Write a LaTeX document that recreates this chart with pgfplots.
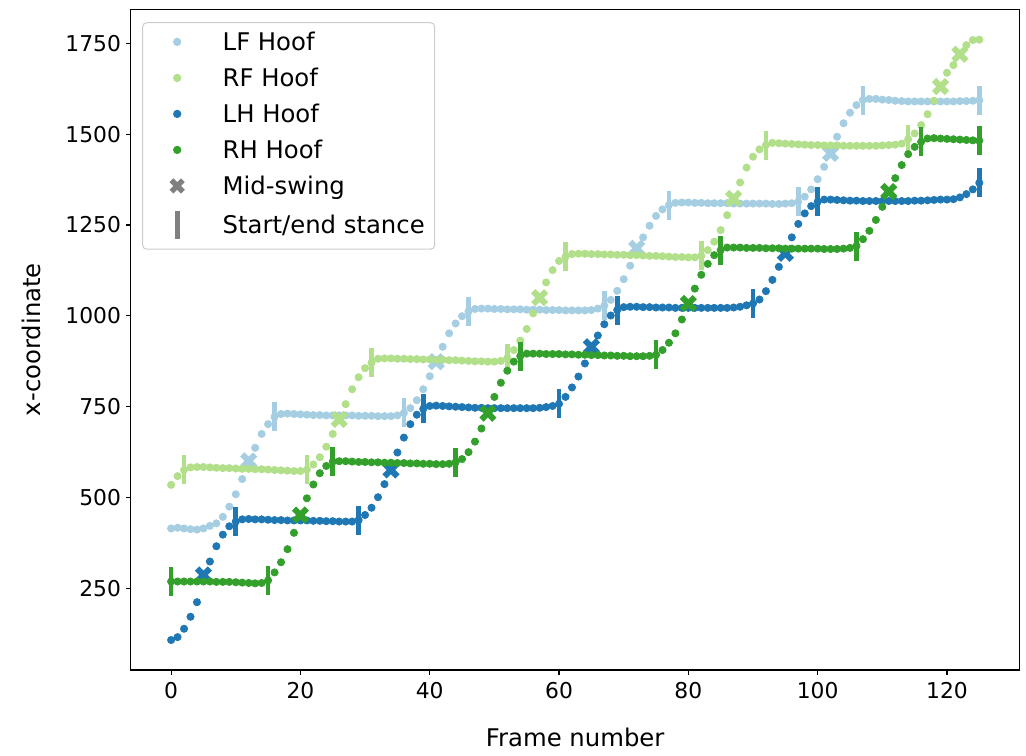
\documentclass[border=0pt]{standalone}
\usepackage{fontspec}
\setmainfont{DejaVu Sans}
\usepackage{pgfplots}
\pgfplotsset{compat=1.18}
\usepackage{pgfplotstable}
\definecolor{lfc}{HTML}{A6CEE3}
\definecolor{rfc}{HTML}{B2DF8A}
\definecolor{lhc}{HTML}{1F78B4}
\definecolor{rhc}{HTML}{33A02C}
\pgfdeclareplotmark{Xf}{%
  \pgfpathmoveto{\pgfqpoint{0.5\pgfplotmarksize}{-\pgfplotmarksize}}%
  \pgfpathlineto{\pgfqpoint{\pgfplotmarksize}{-0.5\pgfplotmarksize}}%
  \pgfpathlineto{\pgfqpoint{0.5\pgfplotmarksize}{0pt}}%
  \pgfpathlineto{\pgfqpoint{\pgfplotmarksize}{0.5\pgfplotmarksize}}%
  \pgfpathlineto{\pgfqpoint{0.5\pgfplotmarksize}{\pgfplotmarksize}}%
  \pgfpathlineto{\pgfqpoint{0pt}{0.5\pgfplotmarksize}}%
  \pgfpathlineto{\pgfqpoint{-0.5\pgfplotmarksize}{\pgfplotmarksize}}%
  \pgfpathlineto{\pgfqpoint{-\pgfplotmarksize}{0.5\pgfplotmarksize}}%
  \pgfpathlineto{\pgfqpoint{-0.5\pgfplotmarksize}{0pt}}%
  \pgfpathlineto{\pgfqpoint{-\pgfplotmarksize}{-0.5\pgfplotmarksize}}%
  \pgfpathlineto{\pgfqpoint{-0.5\pgfplotmarksize}{-\pgfplotmarksize}}%
  \pgfpathlineto{\pgfqpoint{0pt}{-0.5\pgfplotmarksize}}%
  \pgfpathclose
  \pgfusepathqfill
}

\pgfplotstableread[row sep=\\]{
f v\\
0 415\\ 1 417\\ 2 415\\ 3 413\\ 4 412\\ 5 415\\ 6 422\\ 7 429\\ 8 447\\ 9 475\\
10 509\\ 11 551\\ 12 601\\ 13 637\\ 14 675\\ 15 702\\ 16 722\\ 17 730\\ 18 731\\ 19 730\\
20 729\\ 21 728\\ 22 727\\ 23 727\\ 24 726\\ 25 726\\ 26 726\\ 27 726\\ 28 726\\ 29 725\\
30 725\\ 31 725\\ 32 724\\ 33 724\\ 34 724\\ 35 726\\ 36 733\\ 37 746\\ 38 768\\ 39 798\\
40 834\\ 41 874\\ 42 915\\ 43 952\\ 44 979\\ 45 999\\ 46 1012\\ 47 1019\\ 48 1020\\ 49 1020\\
50 1019\\ 51 1019\\ 52 1018\\ 53 1018\\ 54 1018\\ 55 1017\\ 56 1017\\ 57 1017\\ 58 1016\\ 59 1016\\
60 1016\\ 61 1015\\ 62 1015\\ 63 1015\\ 64 1015\\ 65 1016\\ 66 1020\\ 67 1028\\ 68 1044\\ 69 1069\\
70 1101\\ 71 1138\\ 72 1186\\ 73 1216\\ 74 1248\\ 75 1275\\ 76 1293\\ 77 1305\\ 78 1311\\ 79 1312\\
80 1312\\ 81 1311\\ 82 1311\\ 83 1310\\ 84 1310\\ 85 1310\\ 86 1310\\ 87 1309\\ 88 1309\\ 89 1309\\
90 1309\\ 91 1309\\ 92 1309\\ 93 1308\\ 94 1308\\ 95 1309\\ 96 1310\\ 97 1314\\ 98 1328\\ 99 1348\\
100 1376\\ 101 1410\\ 102 1447\\ 103 1493\\ 104 1530\\ 105 1559\\ 106 1580\\ 107 1594\\ 108 1597\\ 109 1597\\
110 1595\\ 111 1594\\ 112 1592\\ 113 1591\\ 114 1590\\ 115 1590\\ 116 1590\\ 117 1590\\ 118 1590\\ 119 1590\\
120 1590\\ 121 1590\\ 122 1591\\ 123 1591\\ 124 1592\\ 125 1593\\
}\LF

\pgfplotstableread[row sep=\\]{
f v\\
0 535\\ 1 559\\ 2 576\\ 3 583\\ 4 584\\ 5 584\\ 6 583\\ 7 582\\ 8 581\\ 9 581\\
10 580\\ 11 579\\ 12 579\\ 13 578\\ 14 578\\ 15 577\\ 16 576\\ 17 575\\ 18 574\\ 19 573\\
20 573\\ 21 577\\ 22 591\\ 23 611\\ 24 640\\ 25 675\\ 26 715\\ 27 757\\ 28 798\\ 29 831\\
30 856\\ 31 871\\ 32 882\\ 33 883\\ 34 883\\ 35 882\\ 36 882\\ 37 881\\ 38 881\\ 39 880\\
40 880\\ 41 879\\ 42 879\\ 43 878\\ 44 878\\ 45 877\\ 46 876\\ 47 875\\ 48 875\\ 49 874\\
50 874\\ 51 876\\ 52 884\\ 53 906\\ 54 932\\ 55 964\\ 56 1007\\ 57 1050\\ 58 1092\\ 59 1126\\
60 1151\\ 61 1163\\ 62 1170\\ 63 1171\\ 64 1171\\ 65 1170\\ 66 1170\\ 67 1169\\ 68 1169\\ 69 1168\\
70 1168\\ 71 1167\\ 72 1167\\ 73 1166\\ 74 1165\\ 75 1165\\ 76 1164\\ 77 1163\\ 78 1162\\ 79 1162\\
80 1161\\ 81 1161\\ 82 1165\\ 83 1181\\ 84 1204\\ 85 1236\\ 86 1277\\ 87 1323\\ 88 1367\\ 89 1408\\
90 1438\\ 91 1458\\ 92 1470\\ 93 1476\\ 94 1475\\ 95 1474\\ 96 1473\\ 97 1472\\ 98 1471\\ 99 1470\\
100 1470\\ 101 1469\\ 102 1469\\ 103 1469\\ 104 1468\\ 105 1468\\ 106 1468\\ 107 1468\\ 108 1468\\ 109 1468\\
110 1469\\ 111 1470\\ 112 1471\\ 113 1474\\ 114 1486\\ 115 1502\\ 116 1525\\ 117 1555\\ 118 1592\\ 119 1631\\
120 1669\\ 121 1690\\ 122 1720\\ 123 1745\\ 124 1759\\ 125 1760\\
}\RF

\pgfplotstableread[row sep=\\]{
f v\\
0 108\\ 1 116\\ 2 139\\ 3 172\\ 4 212\\ 5 287\\ 6 324\\ 7 366\\ 8 398\\ 9 421\\
10 434\\ 11 440\\ 12 441\\ 13 440\\ 14 440\\ 15 439\\ 16 438\\ 17 438\\ 18 437\\ 19 437\\
20 437\\ 21 437\\ 22 436\\ 23 436\\ 24 435\\ 25 435\\ 26 434\\ 27 434\\ 28 434\\ 29 438\\
30 452\\ 31 472\\ 32 501\\ 33 537\\ 34 576\\ 35 624\\ 36 665\\ 37 702\\ 38 728\\ 39 744\\
40 752\\ 41 753\\ 42 752\\ 43 751\\ 44 750\\ 45 749\\ 46 748\\ 47 747\\ 48 747\\ 49 746\\
50 746\\ 51 746\\ 52 746\\ 53 746\\ 54 746\\ 55 746\\ 56 746\\ 57 747\\ 58 749\\ 59 752\\
60 758\\ 61 777\\ 62 803\\ 63 833\\ 64 869\\ 65 915\\ 66 946\\ 67 977\\ 68 1001\\ 69 1016\\
70 1024\\ 71 1025\\ 72 1025\\ 73 1024\\ 74 1024\\ 75 1023\\ 76 1023\\ 77 1023\\ 78 1022\\ 79 1022\\
80 1022\\ 81 1022\\ 82 1022\\ 83 1022\\ 84 1022\\ 85 1022\\ 86 1022\\ 87 1023\\ 88 1025\\ 89 1029\\
90 1034\\ 91 1045\\ 92 1068\\ 93 1099\\ 94 1135\\ 95 1172\\ 96 1216\\ 97 1253\\ 98 1282\\ 99 1302\\
100 1314\\ 101 1320\\ 102 1320\\ 103 1319\\ 104 1318\\ 105 1317\\ 106 1317\\ 107 1316\\ 108 1316\\ 109 1316\\
110 1316\\ 111 1316\\ 112 1316\\ 113 1316\\ 114 1316\\ 115 1317\\ 116 1317\\ 117 1318\\ 118 1319\\ 119 1320\\
120 1320\\ 121 1321\\ 122 1326\\ 123 1335\\ 124 1348\\ 125 1366\\
}\LH

\pgfplotstableread[row sep=\\]{
f v\\
0 269\\ 1 269\\ 2 269\\ 3 269\\ 4 269\\ 5 269\\ 6 269\\ 7 268\\ 8 268\\ 9 268\\
10 267\\ 11 266\\ 12 265\\ 13 264\\ 14 265\\ 15 272\\ 16 294\\ 17 322\\ 18 358\\ 19 403\\
20 452\\ 21 498\\ 22 536\\ 23 567\\ 24 587\\ 25 599\\ 26 600\\ 27 600\\ 28 599\\ 29 598\\
30 598\\ 31 597\\ 32 597\\ 33 596\\ 34 596\\ 35 595\\ 36 595\\ 37 594\\ 38 594\\ 39 593\\
40 593\\ 41 592\\ 42 592\\ 43 593\\ 44 597\\ 45 606\\ 46 625\\ 47 654\\ 48 690\\ 49 732\\
50 777\\ 51 816\\ 52 849\\ 53 874\\ 54 889\\ 55 896\\ 56 896\\ 57 896\\ 58 895\\ 59 895\\
60 895\\ 61 894\\ 62 894\\ 63 893\\ 64 893\\ 65 892\\ 66 892\\ 67 891\\ 68 891\\ 69 890\\
70 890\\ 71 889\\ 72 889\\ 73 889\\ 74 890\\ 75 893\\ 76 906\\ 77 926\\ 78 952\\ 79 990\\
80 1034\\ 81 1075\\ 82 1113\\ 83 1143\\ 84 1167\\ 85 1181\\ 86 1188\\ 87 1188\\ 88 1188\\ 89 1187\\
90 1187\\ 91 1187\\ 92 1186\\ 93 1186\\ 94 1186\\ 95 1185\\ 96 1185\\ 97 1185\\ 98 1185\\ 99 1185\\
100 1185\\ 101 1184\\ 102 1184\\ 103 1184\\ 104 1185\\ 105 1187\\ 106 1192\\ 107 1211\\ 108 1234\\ 109 1264\\
110 1300\\ 111 1342\\ 112 1379\\ 113 1415\\ 114 1445\\ 115 1465\\ 116 1479\\ 117 1488\\ 118 1489\\ 119 1488\\
120 1487\\ 121 1486\\ 122 1485\\ 123 1484\\ 124 1483\\ 125 1482\\
}\RH

\begin{document}
\begin{tikzpicture}
\begin{axis}[name=ax, scale only axis, width=444.5pt, height=330.35pt,
  xmin=-6.25, xmax=131.25, ymin=25.5, ymax=1843.6,
  xtick={0,20,...,120}, ytick={250,500,...,1750},
  tick align=outside, xtick pos=left, ytick pos=left,
  major tick length=2.35pt,
  tick style={black, line width=0.55pt},
  axis line style={line width=0.55pt},
  /pgf/number format/assume math mode=true,
  /pgf/number format/1000 sep={},
  tick label style={font=\fontsize{10.9}{13}\selectfont},
  xticklabel style={anchor=base, inner sep=0pt, yshift=-11.9pt},
  yticklabel style={anchor=east, inner sep=0pt, xshift=-2.35pt},
  xlabel={Frame number}, ylabel={x-coordinate},
  label style={font=\fontsize{12.16}{14.5}\selectfont},
  xlabel style={at={(axis description cs:0.5,-0.1161)}, anchor=base, inner sep=0pt},
  ylabel style={at={(axis description cs:-0.1009,0.5)}, anchor=base, inner sep=0pt},
  legend image code/.code={%
    \path (0pt,-1pt) (24pt,9pt);
    \draw[sharp corners, mark repeat=2, mark phase=2, #1] plot coordinates {(0pt,4.4pt) (12pt,4.4pt) (24pt,4.4pt)};},
  legend style={at={(axis description cs:0.0135,0.9797)}, anchor=north west,
    draw=black!20, line width=0.5pt, rounded corners=2pt, fill=white,
    inner xsep=5pt, inner ysep=4pt, outer sep=0pt,
    row sep=4.15pt, column sep=10.5pt,
    font=\fontsize{12.16}{14.5}\selectfont,
    cells={anchor=base west},
    nodes={inner sep=0pt, text height=10pt, text depth=3.85pt}},
]
% LF
\addplot[only marks, mark=*, mark size=1.8pt, color=lfc, mark options={draw=none}] table {\LF};
\addlegendentry{LF Hoof}
\addplot[forget plot, only marks, mark=Xf, mark size=4.3pt, color=lfc] coordinates {(12,601) (41,874) (72,1186) (102,1447)};
\addplot[forget plot, only marks, mark=|, mark size=7.25pt, color=lfc, mark options={line width=2.3pt}] coordinates {(16,722) (36,733) (46,1012) (67,1028) (77,1305) (97,1314) (107,1594) (125,1593)};
% RF
\addplot[only marks, mark=*, mark size=1.8pt, color=rfc, mark options={draw=none}] table {\RF};
\addlegendentry{RF Hoof}
\addplot[forget plot, only marks, mark=Xf, mark size=4.3pt, color=rfc] coordinates {(26,715) (57,1050) (87,1323) (119,1631) (122,1720)};
\addplot[forget plot, only marks, mark=|, mark size=7.25pt, color=rfc, mark options={line width=2.3pt}] coordinates {(2,576) (21,577) (31,871) (52,884) (61,1163) (82,1165) (92,1470) (114,1486)};
% LH
\addplot[only marks, mark=*, mark size=1.8pt, color=lhc, mark options={draw=none}] table {\LH};
\addlegendentry{LH Hoof}
\addplot[forget plot, only marks, mark=Xf, mark size=4.3pt, color=lhc] coordinates {(5,287) (34,576) (65,915) (95,1172)};
\addplot[forget plot, only marks, mark=|, mark size=7.25pt, color=lhc, mark options={line width=2.3pt}] coordinates {(10,434) (29,438) (39,744) (60,758) (69,1016) (90,1034) (100,1314) (125,1366)};
% RH
\addplot[only marks, mark=*, mark size=1.8pt, color=rhc, mark options={draw=none}] table {\RH};
\addlegendentry{RH Hoof}
\addplot[forget plot, only marks, mark=Xf, mark size=4.3pt, color=rhc] coordinates {(20,452) (49,732) (80,1034) (111,1342)};
\addplot[forget plot, only marks, mark=|, mark size=7.25pt, color=rhc, mark options={line width=2.3pt}] coordinates {(0,269) (15,272) (25,599) (44,597) (54,889) (75,893) (85,1181) (106,1192) (116,1479) (125,1482)};
% legend-only entries
\addlegendimage{only marks, mark=Xf, mark size=3.8pt, color=gray}
\addlegendentry{Mid-swing}
\addlegendimage{only marks, mark=|, mark size=7pt, color=gray, mark options={line width=2.4pt}}
\addlegendentry{Start/end stance}
\end{axis}
\pgfresetboundingbox
\path[use as bounding box] ([shift={(-65.35pt,-42.5pt)}]ax.south west) rectangle ([shift={(3.15pt,4.65pt)}]ax.north east);
\end{tikzpicture}
\end{document}
